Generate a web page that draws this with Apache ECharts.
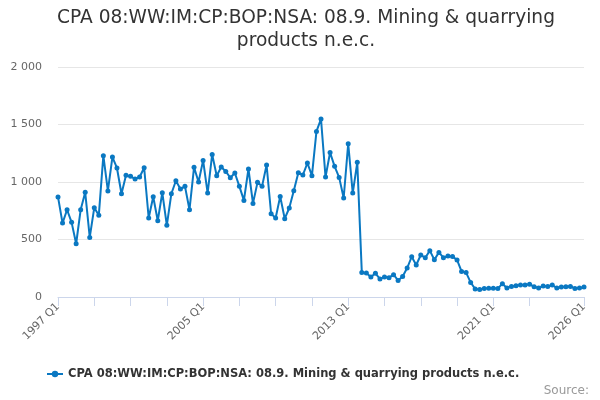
<!DOCTYPE html>
<html>
<head>
<meta charset="utf-8">
<script src="https://cdn.jsdelivr.net/npm/echarts@6/dist/echarts.min.js"></script>
<style>
  html, body { margin: 0; padding: 0; background: #fff; }
  #chart { width: 600px; height: 400px; }
</style>
</head>
<body>
<div id="chart"></div>
<script>
// quarters 1997 Q1 .. 2026 Q1
var firstYear = 1997;
var lastYear = 2026;
var seriesName = 'CPA 08:WW:IM:CP:BOP:NSA: 08.9. Mining & quarrying products n.e.c.';

var values = [
  870, 643, 759, 649, 463, 759, 910, 518, 777, 710,
  1229, 922, 1217, 1122, 898, 1058, 1049, 1026, 1043, 1124,
  687, 872, 663, 907, 623, 898, 1011, 939, 962, 759,
  1128, 1000, 1188, 904, 1240, 1055, 1130, 1092, 1037, 1078,
  962, 840, 1113, 814, 997, 962, 1148, 724, 687, 875,
  681, 774, 924, 1081, 1061, 1165, 1055, 1440, 1548, 1043,
  1257, 1136, 1040, 861, 1333, 904, 1171, 214, 209, 174,
  206, 157, 174, 168, 194, 144, 179, 252, 350, 278,
  365, 342, 403, 324, 388, 342, 356, 353, 322, 222,
  212, 127, 70, 66, 73, 76, 76, 73, 116, 78,
  92, 98, 104, 104, 110, 90, 78, 96, 92, 104,
  78, 87, 90, 92, 75, 78, 87
];

var categories = [];
for (var y = firstYear; y <= lastYear; y++) {
  for (var q = 1; q <= 4; q++) {
    if (y === lastYear && q > 1) break;
    categories.push(y + ' Q' + q);
  }
}

var lastIdx = categories.length - 1;

var myChart = echarts.init(document.getElementById('chart'));

var option = {
  animation: false,
  textStyle: { fontFamily: 'DejaVu Sans' },
  title: {
    text: 'CPA 08:WW:IM:CP:BOP:NSA: 08.9. Mining & quarrying\nproducts n.e.c.',
    left: 301,
    textAlign: 'center',
    top: 2,
    textStyle: {
      fontSize: 18.6,
      fontWeight: 'normal',
      color: '#333333',
      lineHeight: 23,
      fontFamily: 'DejaVu Sans'
    }
  },
  legend: {
    bottom: 15,
    left: 41,
    itemWidth: 16,
    itemHeight: 8,
    itemGap: 6,
    data: [seriesName],
    textStyle: {
      fontSize: 11.5,
      fontWeight: 'bold',
      color: '#333333',
      fontFamily: 'DejaVu Sans'
    }
  },
  graphic: [{
    type: 'text',
    right: 11,
    bottom: 3,
    style: {
      text: 'Source:',
      fill: '#999999',
      fontSize: 12,
      fontFamily: 'DejaVu Sans'
    }
  }],
  grid: {
    left: 58,
    right: 16,
    top: 67,
    bottom: 103
  },
  xAxis: {
    type: 'category',
    boundaryGap: false,
    data: categories,
    axisLine: { lineStyle: { color: '#ccd6eb' } },
    axisTick: {
      length: 9,
      lineStyle: { color: '#ccd6eb' },
      interval: function (i) {
        return (i % 8 === 0 && i < 112) || i === lastIdx;
      }
    },
    axisLabel: {
      rotate: 45,
      color: '#666666',
      fontSize: 11,
      margin: 8,
      interval: function (i) {
        return i % 32 === 0 || i === lastIdx;
      }
    }
  },
  yAxis: {
    type: 'value',
    min: 0,
    max: 2000,
    interval: 500,
    axisLine: { show: false },
    axisTick: { show: false },
    splitLine: { lineStyle: { color: '#e6e6e6' } },
    axisLabel: {
      color: '#666666',
      fontSize: 11,
      margin: 16,
      formatter: function (v) {
        return String(v).replace(/\B(?=(\d{3})+(?!\d))/g, ' ');
      }
    }
  },
  series: [{
    name: seriesName,
    type: 'line',
    data: values,
    symbol: 'circle',
    symbolSize: 5,
    showAllSymbol: true,
    color: '#0a78c2',
    lineStyle: { width: 2 }
  }]
};

myChart.setOption(option);
</script>
</body>
</html>
